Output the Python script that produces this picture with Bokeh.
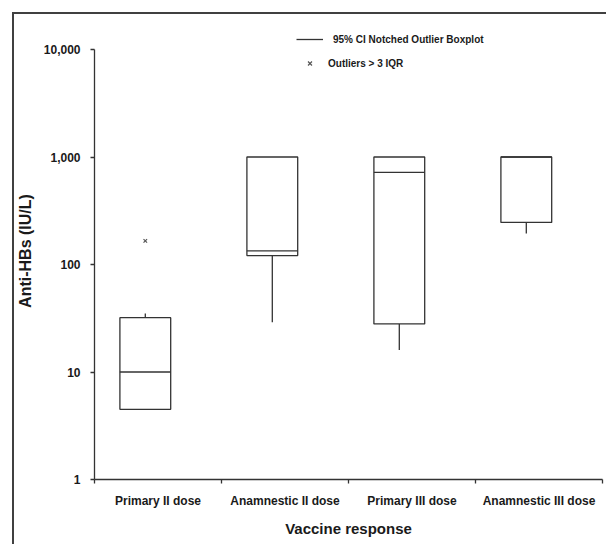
from bokeh.plotting import figure
from bokeh.models import (FixedTicker, NumeralTickFormatter, Range1d, Legend,
                          LegendItem, ColumnDataSource)
from bokeh.embed import file_html
from bokeh.resources import INLINE

# ---------------- data ----------------
categories = ["Primary II dose", "Anamnestic II dose", "Primary III dose", "Anamnestic III dose"]
q1 = [4.5, 121, 28, 246]
medians = [10, 134, 720, 1000]
q3 = [32, 1000, 1000, 1000]
whisker_low = [4.5, 29, 16, 194]
whisker_high = [35, 1000, 1000, 1000]
outlier_category = [0]
outlier_values = [166]
y_ticks = [1, 10, 100, 1000, 10000]

FONT = "Liberation Sans"
INK = "#333333"

n = len(categories)
centers = [i + 0.4 for i in range(n)]
src = ColumnDataSource(dict(
    x=centers,
    left=[c - 0.2 for c in centers],
    right=[c + 0.2 for c in centers],
    q1=q1, q3=q3, med=medians, lo=whisker_low, hi=whisker_high,
))
out_src = ColumnDataSource(dict(x=[centers[i] for i in outlier_category], y=outlier_values))

p = figure(width=606, height=544, y_axis_type="log",
           x_range=Range1d(0, n), y_range=Range1d(1, 10 ** (4 + 27 / 107.5)),
           output_backend="svg", toolbar_location=None,
           min_border_left=94, min_border_right=4, min_border_top=22, min_border_bottom=65)
p.outline_line_color = None
p.xgrid.visible = False
p.ygrid.visible = False
p.border_fill_color = None
p.background_fill_color = None
# decorative page frame of the original figure (top and left edges)
p.styles = {
    "background": ("linear-gradient(#404040, #404040) 12px 12px / 2px 100% no-repeat, "
                   "linear-gradient(#404040, #404040) 12px 12px / 100% 2px no-repeat, white"),
}

# whiskers
lower_w = p.segment(x0="x", y0="q1", x1="x", y1="lo", source=src, line_color=INK, line_width=1.3)
p.segment(x0="x", y0="q3", x1="x", y1="hi", source=src, line_color=INK, line_width=1.3)
# boxes
p.quad(left="left", right="right", bottom="q1", top="q3", source=src,
       fill_color="white", line_color=INK, line_width=1.3)
# medians
p.segment(x0="left", y0="med", x1="right", y1="med", source=src, line_color=INK, line_width=1.3)
# outliers
outl = p.scatter(x="x", y="y", source=out_src, marker="x", size=5, line_color="#555555", line_width=1.2)

# ---------------- axes ----------------
yax = p.yaxis[0]
yax.ticker = FixedTicker(ticks=y_ticks)
yax.formatter = NumeralTickFormatter(format="0,0")
yax.bounds = (y_ticks[0], y_ticks[-1])
yax.axis_label = "Anti-HBs (IU/L)"
yax.major_tick_out = 4
yax.major_tick_in = 0
yax.minor_tick_out = 0
yax.minor_tick_in = 0
yax.major_label_standoff = 10
yax.axis_label_standoff = 7

xax = p.xaxis[0]
label_pos = [i + 0.5 for i in range(n)]
xax.ticker = FixedTicker(ticks=label_pos, minor_ticks=list(range(n + 1)))
xax.major_label_overrides = {pos: lab for pos, lab in zip(label_pos, categories)}
xax.axis_label = "Vaccine response"
xax.major_tick_out = 0
xax.major_tick_in = 0
xax.minor_tick_out = 4
xax.minor_tick_in = 0
xax.major_label_standoff = 10
xax.axis_label_standoff = 9

for ax in (xax, yax):
    ax.axis_line_color = INK
    ax.axis_line_width = 1.3
    ax.major_tick_line_color = INK
    ax.major_tick_line_width = 1.3
    ax.minor_tick_line_color = INK
    ax.minor_tick_line_width = 1.3
    ax.major_label_text_font = FONT
    ax.major_label_text_font_style = "bold"
    ax.major_label_text_font_size = "12px"
    ax.major_label_text_color = "#1a1a1a"
    ax.axis_label_text_font = FONT
    ax.axis_label_text_font_style = "bold"
    ax.axis_label_text_color = "#1a1a1a"
yax.axis_label_text_font_size = "16px"
xax.axis_label_text_font_size = "15px"

# ---------------- legends ----------------
def make_legend(label, renderer, loc, standoff):
    lg = Legend(items=[LegendItem(label=label, renderers=[renderer])], location=loc,
                padding=0, margin=0, spacing=0, glyph_width=27, glyph_height=14,
                label_height=14, label_standoff=standoff,
                background_fill_alpha=0, border_line_color=None,
                label_text_font=FONT, label_text_font_style="bold",
                label_text_font_size="10px", label_text_color="#1a1a1a")
    p.add_layout(lg)

make_legend("95% CI Notched Outlier Boxplot", lower_w, (202, 433), 10)
make_legend("Outliers > 3 IQR", outl, (202, 409), 5)

open("out.html", "w").write(file_html(p, INLINE))
